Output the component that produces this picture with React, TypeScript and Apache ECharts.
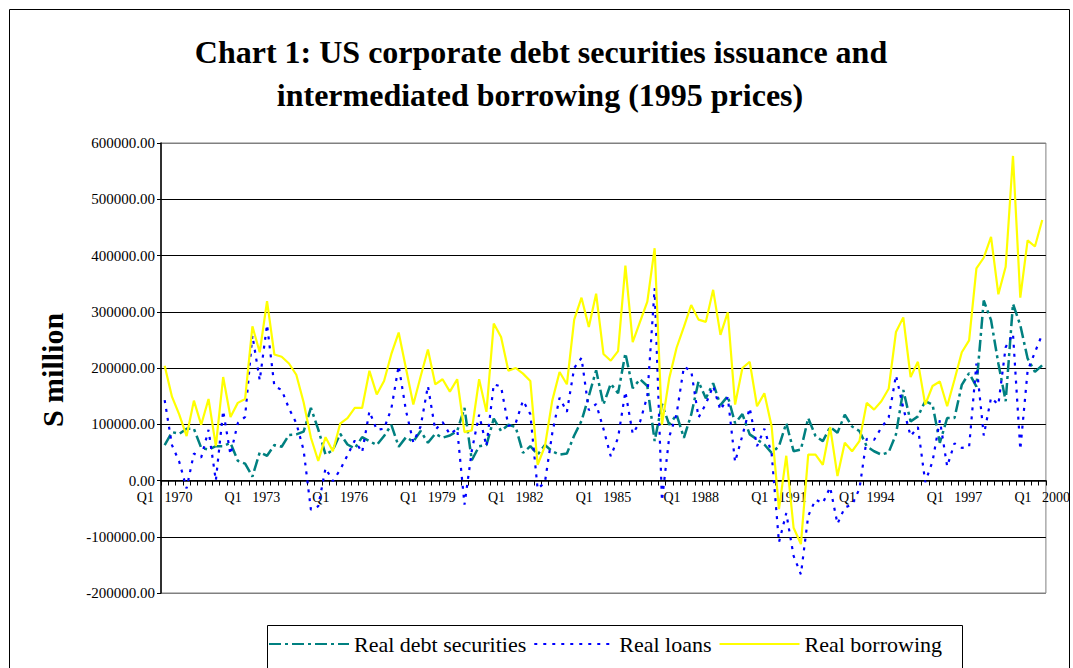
import React, { useEffect, useRef } from 'react';
import * as echarts from 'echarts';

const FONT = "'Times New Roman', 'Liberation Serif', serif";

const startYear = 1970;
const quarterCount = 121;
const categories: string[] = [];
for (let i = 0; i < quarterCount; i++) {
  categories.push(`Q${(i % 4) + 1} ${startYear + Math.floor(i / 4)}`);
}

const seriesNames = ['Real debt securities', 'Real loans', 'Real borrowing'];

const realDebtSecurities = [
  63000, 86000, 83000, 92000, 92000, 58000, 55000, 61000, 61000, 67000,
  35000, 30000, 7000, 50000, 44000, 63000, 60000, 81000, 82000, 87000,
  129000, 91000, 46000, 54000, 83000, 64000, 57000, 77000, 70000, 63000,
  79000, 99000, 60000, 77000, 69000, 88000, 67000, 83000, 76000, 80000,
  88000, 129000, 36000, 61000, 63000, 110000, 88000, 99000, 95000, 49000,
  61000, 46000, 63000, 52000, 46000, 48000, 80000, 106000, 150000, 196000,
  135000, 172000, 155000, 226000, 164000, 180000, 168000, 70000, 136000, 99000,
  117000, 76000, 117000, 176000, 146000, 173000, 134000, 150000, 102000, 118000,
  82000, 73000, 64000, 49000, 61000, 102000, 52000, 55000, 111000, 79000,
  70000, 95000, 85000, 117000, 96000, 88000, 61000, 52000, 46000, 50000,
  82000, 161000, 105000, 114000, 141000, 135000, 67000, 111000, 111000, 170000,
  191000, 167000, 320000, 285000, 208000, 141000, 314000, 276000, 217000, 193000,
  205000,
];

const realLoans = [
  143000, 63000, 33000, -14000, 48000, 41000, 90000, 0, 124000, 46000,
  102000, 113000, 258000, 178000, 277000, 168000, 161000, 128000, 102000, 54000,
  -52000, -46000, 22000, -1000, 19000, 45000, 71000, 50000, 123000, 90000,
  92000, 128000, 204000, 124000, 68000, 96000, 168000, 90000, 104000, 82000,
  92000, -43000, 53000, 117000, 61000, 171000, 167000, 97000, 102000, 142000,
  118000, -15000, -3000, 84000, 147000, 122000, 200000, 218000, 125000, 136000,
  92000, 43000, 76000, 158000, 83000, 104000, 150000, 342000, -36000, 78000,
  118000, 202000, 195000, 112000, 136000, 168000, 125000, 148000, 33000, 80000,
  129000, 61000, 92000, 48000, -110000, -58000, -134000, -167000, -63000, -34000,
  -40000, -12000, -77000, -48000, -43000, -15000, 74000, 72000, 94000, 112000,
  187000, 129000, 79000, 95000, -3000, 34000, 107000, 25000, 66000, 58000,
  60000, 208000, 80000, 147000, 135000, 237000, 261000, 55000, 195000, 228000,
  260000,
];

const realBorrowing = [
  204000, 149000, 117000, 79000, 142000, 99000, 145000, 61000, 184000, 113000,
  138000, 145000, 274000, 228000, 319000, 224000, 220000, 208000, 188000, 139000,
  76000, 35000, 77000, 52000, 101000, 111000, 129000, 129000, 195000, 153000,
  177000, 225000, 263000, 199000, 135000, 185000, 233000, 171000, 180000, 158000,
  180000, 86000, 89000, 180000, 122000, 279000, 255000, 195000, 200000, 190000,
  177000, 28000, 61000, 142000, 193000, 171000, 286000, 325000, 273000, 332000,
  225000, 213000, 230000, 382000, 246000, 282000, 318000, 413000, 99000, 182000,
  236000, 273000, 312000, 286000, 282000, 339000, 259000, 299000, 135000, 200000,
  211000, 132000, 155000, 96000, -51000, 44000, -84000, -113000, 46000, 46000,
  28000, 95000, 8000, 67000, 52000, 70000, 138000, 126000, 141000, 163000,
  264000, 290000, 184000, 211000, 135000, 168000, 176000, 132000, 179000, 228000,
  249000, 377000, 396000, 433000, 331000, 380000, 577000, 325000, 427000, 416000,
  463000,
];

const yTicks = { min: -200000, max: 600000, interval: 100000 };

const GRID = { left: 161, right: 17, top: 143, bottom: 75 };
const PLOT_H = 668 - GRID.top - GRID.bottom;
const zeroOffset = -PLOT_H * (0 - yTicks.min) / (yTicks.max - yTicks.min);

export default function App() {
  const ref = useRef<HTMLDivElement>(null);
  useEffect(() => {
    const chart = echarts.init(ref.current as HTMLDivElement, null, { renderer: 'svg' });
    chart.setOption({
      animation: false,
      backgroundColor: '#ffffff',
      grid: {
        ...GRID,
        show: true,
        borderColor: '#808080',
        borderWidth: 1,
        containLabel: false,
      },
      xAxis: {
        type: 'category',
        data: categories,
        boundaryGap: true,
        position: 'bottom',
        offset: zeroOffset,
        axisLine: { onZero: false, lineStyle: { color: '#000', width: 1.5 } },
        axisTick: { show: true, interval: 0, length: 5, lineStyle: { color: '#000', width: 1 } },
        axisLabel: {
          interval: 11,
          formatter: (v: string) => v.replace(' ', '   '),
          fontFamily: FONT,
          fontSize: 14,
          color: '#000',
          margin: 10,
        },
        splitLine: { show: false },
      },
      yAxis: {
        type: 'value',
        min: yTicks.min,
        max: yTicks.max,
        interval: yTicks.interval,
        axisLine: { show: true, onZero: false, lineStyle: { color: '#000', width: 1.5 } },
        axisTick: { show: true, length: 4, lineStyle: { color: '#000' } },
        axisLabel: {
          formatter: (v: number) => v.toFixed(2),
          fontFamily: FONT,
          fontSize: 15,
          color: '#000',
          margin: 6,
        },
        splitLine: {
          show: true,
          lineStyle: {
            color: ['#808080', '#000', '#000', '#000', '#000', '#000', '#000', '#000', '#808080'],
            width: 1,
          },
        },
      },
      legend: {
        left: 268,
        top: 633,
        itemWidth: 80,
        itemHeight: 14,
        itemGap: 7,
        padding: 0,
        itemStyle: { opacity: 0 },
        textStyle: { fontFamily: FONT, fontSize: 22, color: '#000' },
        data: seriesNames,
      },
      graphic: [
        {
          type: 'rect',
          silent: true,
          z: -10,
          shape: { x: 9.5, y: 9.5, width: 1060, height: 700 },
          style: { fill: 'none', stroke: '#000', lineWidth: 1 },
        },
        {
          type: 'rect',
          silent: true,
          shape: { x: 267.5, y: 625.5, width: 695, height: 80 },
          style: { fill: 'none', stroke: '#000', lineWidth: 1 },
        },
        {
          type: 'text',
          x: 541,
          y: 52,
          style: {
            text: 'Chart 1: US corporate debt securities issuance and',
            font: `bold 32px ${FONT}`,
            fill: '#000',
            textAlign: 'center',
            textVerticalAlign: 'middle',
          },
        },
        {
          type: 'text',
          x: 540,
          y: 95,
          style: {
            text: 'intermediated borrowing (1995 prices)',
            font: `bold 32px ${FONT}`,
            fill: '#000',
            textAlign: 'center',
            textVerticalAlign: 'middle',
          },
        },
        {
          type: 'text',
          x: 52,
          y: 370,
          rotation: Math.PI / 2,
          style: {
            text: 'S million',
            font: `bold 30px ${FONT}`,
            fill: '#000',
            textAlign: 'center',
            textVerticalAlign: 'middle',
          },
        },
      ],
      series: [
        {
          name: seriesNames[0],
          type: 'line',
          data: realDebtSecurities,
          symbol: 'none',
          lineStyle: { color: '#008080', width: 2.5, type: [12, 4, 3, 4] },
          itemStyle: { color: '#008080' },
        },
        {
          name: seriesNames[1],
          type: 'line',
          data: realLoans,
          symbol: 'none',
          lineStyle: { color: '#0000ff', width: 2.2, type: [3, 6] },
          itemStyle: { color: '#0000ff' },
        },
        {
          name: seriesNames[2],
          type: 'line',
          data: realBorrowing,
          symbol: 'none',
          lineStyle: { color: '#ffff00', width: 2.2 },
          itemStyle: { color: '#ffff00' },
        },
      ],
    });
    return () => chart.dispose();
  }, []);
  return (
    <div
      ref={ref}
      style={{ position: 'fixed', left: 0, top: 0, width: 1073, height: 668 }}
    />
  );
}
